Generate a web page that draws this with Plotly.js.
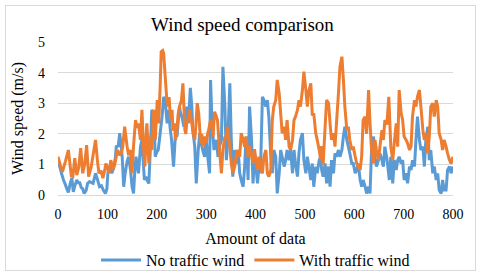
<!DOCTYPE html>
<html><head><meta charset="utf-8">
<script src="https://cdn.plot.ly/plotly-3.0.1.min.js"></script>
<style>
html,body{margin:0;padding:0;background:#fff;}
#chart{width:480px;height:277px;position:relative;}
#frame{position:absolute;left:5px;top:5px;width:469px;height:264px;border:1px solid #d9d9d9;pointer-events:none;z-index:10;}
#chart text{font-family:"Liberation Serif","Times New Roman",serif !important;}
</style></head>
<body><div id="chart"></div><div id="frame"></div>
<script>
const chartTitle = "Wind speed comparison";
const xTitle = "Amount of data";
const yTitle = "Wind speed (m/s)";
const seriesNames = ["No traffic wind", "With traffic wind"];
const xTicks = [0,100,200,300,400,500,600,700,800];
const yTicks = [0,1,2,3,4,5];

const noTrafficX = [0,4,7,11,14,18,21,25,28,31,34,38,41,44,47,50,53,57,60,64,68,71,76,80,84,88,92,96,99,101,104,107,109,113,116,118,122,125,128,130,133,136,140,143,147,150,153,156,158,163,167,170,173,175,178,180,184,187,190,194,197,200,203,207,211,214,217,221,224,227,230,234,238,241,246,248,251,255,258,261,264,268,271,273,277,280,284,287,290,294,297,300,304,307,309,312,316,321,324,327,331,334,338,341,344,348,351,354,358,361,365,368,371,375,378,381,385,388,392,395,398,401,404,407,410,414,417,421,424,427,431,434,437,441,444,448,451,454,458,461,464,468,471,475,478,481,485,488,491,495,498,502,505,508,512,515,518,522,525,529,532,534,537,541,544,548,551,554,558,561,564,568,571,575,578,581,585,588,591,595,598,602,605,608,612,615,618,622,625,629,632,635,639,642,645,649,652,656,659,662,666,668,671,674,678,681,685,688,691,695,698,701,705,708,712,715,718,722,725,728,732,735,739,742,745,749,752,755,759,762,766,769,772,776,779,782,786,789,793,796,800];
const noTrafficY = [1.12,0.90,0.71,0.50,0.38,0.20,0.08,0.40,0.55,0.10,0.30,0.49,0.40,0.40,0.25,0.20,0.05,0.15,0.38,0.44,0.40,0.38,0.71,0.50,0.27,0.30,0.15,0.05,0.20,0.71,0.93,0.80,0.71,0.90,1.20,1.58,1.60,2.02,1.60,1.25,0.27,0.71,1.10,1.25,0.80,0.27,0.05,0.90,1.25,0.71,1.58,1.80,1.00,0.49,0.60,0.49,0.38,1.50,2.78,2.67,1.25,1.40,1.47,2.02,2.60,3.21,3.10,2.34,2.78,2.20,1.80,0.93,2.02,1.91,2.89,2.70,2.56,2.23,2.50,2.89,2.34,3.50,2.90,2.12,1.58,0.38,1.47,2.02,1.69,1.40,1.25,1.80,1.14,0.71,3.76,2.34,1.47,1.80,1.25,1.58,1.80,4.19,2.89,1.14,1.80,3.65,1.80,0.60,1.47,1.03,1.47,0.71,0.49,0.27,0.93,1.91,0.49,2.89,1.80,0.38,1.25,0.93,0.38,0.93,0.71,3.21,3.10,2.89,3.10,2.56,1.25,0.71,1.47,1.25,0.05,0.71,1.47,1.25,0.93,1.14,1.47,1.14,1.47,0.71,1.47,1.03,0.60,1.36,1.80,2.02,1.14,0.71,1.25,0.93,0.49,1.03,0.27,0.93,0.71,1.14,1.25,0.82,0.60,1.03,0.38,0.93,0.27,1.14,0.71,1.36,1.25,1.47,1.25,1.47,1.91,2.23,1.80,1.58,1.36,1.03,1.03,0.71,0.82,1.03,0.49,0.27,0.49,0.27,0.05,0.27,0.05,1.47,1.91,1.25,0.93,1.14,1.36,1.14,0.93,1.58,1.20,0.93,0.49,1.25,0.38,1.14,0.82,1.14,1.25,1.03,1.14,0.49,0.71,0.38,0.93,0.82,1.14,0.93,1.80,2.56,1.80,1.47,1.58,0.93,1.80,2.23,1.14,1.47,0.71,0.93,0.49,0.71,0.16,0.05,0.49,0.16,0.16,0.82,0.93,0.71,0.93];

const withTrafficX = [0,5,9,15,21,27,30,34,38,42,46,50,54,58,62,67,71,76,80,83,87,91,95,97,100,103,107,111,115,118,121,125,128,131,135,140,143,147,150,153,157,160,163,167,170,173,176,178,180,184,187,190,194,197,201,204,207,209,212,214,217,220,223,225,228,231,233,236,238,241,243,246,250,253,257,259,261,264,267,271,274,277,279,282,285,289,291,294,297,300,303,305,309,312,314,317,320,323,325,327,331,334,338,340,343,345,348,351,354,358,361,363,368,371,375,378,381,385,388,390,395,398,400,404,407,410,414,417,421,424,427,431,434,437,441,444,448,451,454,458,461,464,468,471,475,478,481,485,488,491,495,498,502,505,508,512,515,518,522,525,529,532,534,537,541,544,548,551,554,558,561,564,568,571,575,578,581,585,588,591,595,598,602,605,608,612,615,618,622,625,629,632,635,639,642,645,649,652,656,659,662,666,670,674,678,681,685,688,691,695,698,701,705,708,712,715,718,722,725,728,732,735,739,742,745,749,752,755,759,762,766,769,772,776,779,782,786,789,793,796,800];
const withTrafficY = [1.25,0.95,0.76,1.10,1.47,0.62,0.60,1.20,0.65,0.90,1.53,0.71,1.00,1.63,0.60,0.90,1.30,1.80,1.10,0.71,0.80,0.55,0.85,1.03,0.90,0.71,1.14,0.82,1.00,1.25,1.47,1.30,1.36,1.55,2.23,1.58,1.30,1.47,0.71,1.60,2.45,2.20,2.34,1.80,2.78,1.60,0.93,1.80,2.34,1.03,1.91,1.47,2.78,1.80,3.10,2.34,3.60,4.68,4.72,4.63,3.90,3.20,2.89,3.20,2.45,2.78,2.10,2.34,1.80,2.12,2.60,2.89,3.10,3.65,2.12,2.00,2.45,2.45,2.78,2.34,2.00,1.80,2.20,3.00,2.67,1.69,2.00,1.58,1.91,1.69,2.00,2.12,2.45,2.20,1.91,2.72,2.60,2.45,2.00,1.47,0.71,1.47,1.91,1.80,2.23,2.00,1.58,1.03,0.71,0.93,1.30,1.47,1.25,2.02,1.80,1.58,1.91,1.25,1.60,1.47,1.03,1.50,1.25,0.82,1.25,0.93,0.71,1.25,1.47,0.71,0.60,0.82,2.45,2.89,3.10,3.76,3.32,2.67,2.02,2.23,1.80,2.45,1.58,1.47,1.80,2.45,2.56,2.78,3.10,2.89,3.43,4.03,3.43,2.89,3.40,3.65,2.60,2.67,2.02,1.80,1.47,1.14,1.60,1.00,2.23,3.10,3.00,2.34,1.80,2.02,1.58,2.34,3.32,4.19,4.52,3.76,2.89,2.12,2.23,1.80,1.47,1.58,1.25,1.03,0.93,0.82,1.25,2.45,2.56,2.00,3.43,2.34,1.47,1.03,1.80,1.47,1.14,1.58,2.12,1.80,2.45,2.30,3.21,1.58,1.14,1.69,2.34,1.58,3.43,2.67,2.45,1.91,1.80,1.69,1.47,1.58,2.56,3.10,2.89,3.21,3.43,2.89,2.12,1.80,2.02,1.36,1.91,2.89,3.00,2.56,3.10,2.89,2.02,1.80,1.47,1.80,1.58,1.36,1.14,1.03,1.25];

const FONT = "Liberation Serif";
const traces = [
  {x: noTrafficX, y: noTrafficY, name: seriesNames[0], type: "scatter", mode: "lines",
   line: {color: "#5B9BD5", width: 3, simplify: false}},
  {x: withTrafficX, y: withTrafficY, name: seriesNames[1], type: "scatter", mode: "lines",
   line: {color: "#ED7D31", width: 3, simplify: false}}
];
const layout = {
  width: 480, height: 277,
  margin: {l: 58, r: 27, t: 42, b: 82, autoexpand: false},
  paper_bgcolor: "#fff", plot_bgcolor: "#fff",
  font: {family: FONT, color: "#000", size: 14},
  title: {text: chartTitle, font: {family: FONT, size: 19, color: "#000"},
          x: 0.505, xref: "container", xanchor: "center", y: 0.913, yref: "container", yanchor: "middle"},
  xaxis: {range: [0, 800], tickvals: xTicks, ticktext: xTicks.map(String), showgrid: false, zeroline: false,
          showline: true, linecolor: "#d9d9d9", linewidth: 1, ticks: "", ticklabelstandoff: 6, automargin: false,
          tickfont: {family: FONT, size: 14, color: "#000"},
          title: {text: xTitle, font: {family: FONT, size: 16, color: "#000"}, standoff: 12}},
  yaxis: {range: [0, 5], tickvals: yTicks, ticktext: yTicks.map(String), showgrid: true, gridcolor: "#d9d9d9",
          gridwidth: 1, zeroline: false, showline: false, ticks: "", ticklabelstandoff: 12, automargin: false,
          tickfont: {family: FONT, size: 14, color: "#000"},
          title: {text: yTitle, font: {family: FONT, size: 16, color: "#000"}, standoff: 10}},
  showlegend: true,
  legend: {orientation: "h", x: 0.5, xanchor: "center", y: -0.425, yanchor: "middle",
           font: {family: FONT, size: 16, color: "#000"}, itemwidth: 40, tracegroupgap: 0, bgcolor: "rgba(0,0,0,0)"}
};
Plotly.newPlot("chart", traces, layout, {staticPlot: true, displayModeBar: false});
</script></body></html>
